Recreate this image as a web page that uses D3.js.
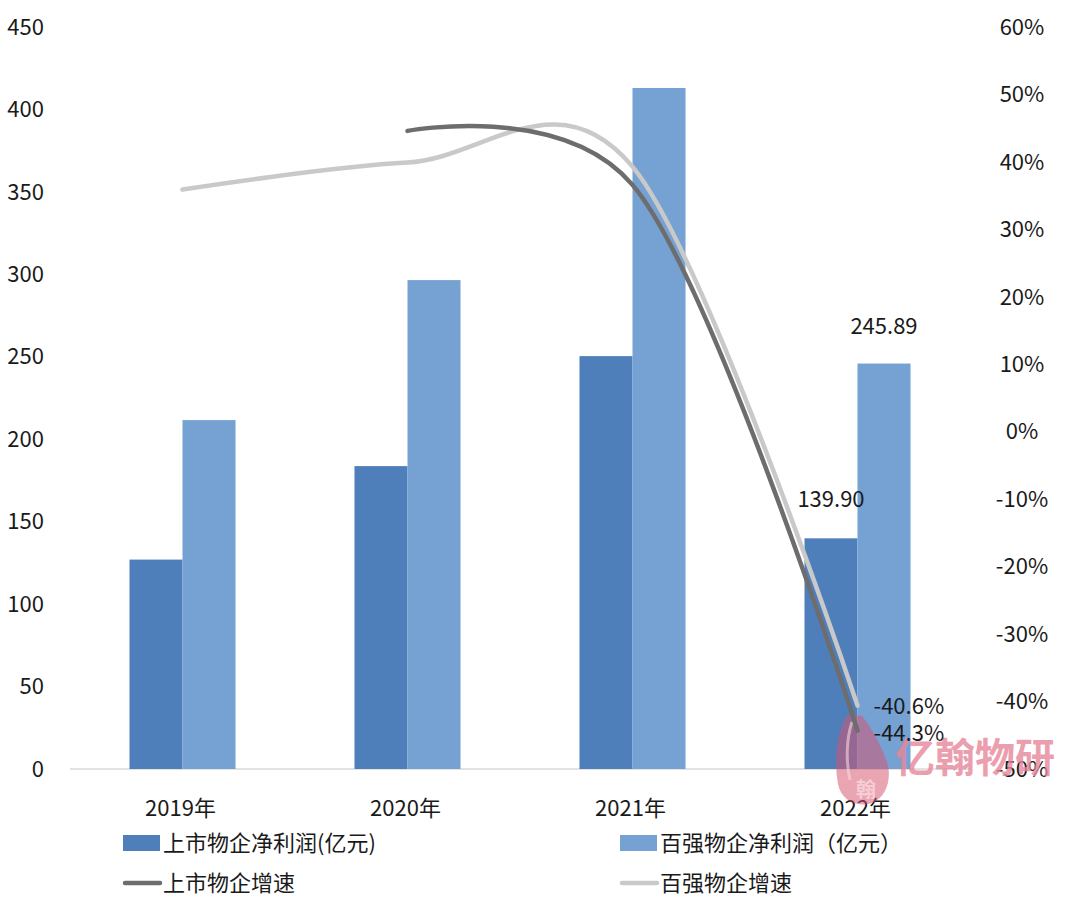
<!DOCTYPE html>
<html><head><meta charset="utf-8">
<script src="https://cdn.jsdelivr.net/npm/d3@7"></script>
<style>
body{margin:0;background:#fff;}
svg text{font-family:"Noto Sans CJK SC","Noto Sans",sans-serif;fill:#1a1a1a;}
</style></head>
<body><svg id="c" width="1080" height="923"></svg>
<script>
const categories = ["2019年","2020年","2021年","2022年"];
const listedProfit = [127, 183.7, 250.4, 139.90];
const top100Profit = [211.6, 296.5, 413, 245.89];
const listedGrowth = [null, 44.6, 36.6, -44.3];
const top100Growth = [35.9, 39.9, 39.3, -40.6];
const leftTicks = [0,50,100,150,200,250,300,350,400,450];
const rightTicks = [-50,-40,-30,-20,-10,0,10,20,30,40,50,60];
const seriesNames = ["上市物企净利润(亿元)","百强物企净利润（亿元）","上市物企增速","百强物企增速"];

const svg = d3.select("#c");
const colDark = "#4f7fbb", colLight = "#75a1d3", lineDark = "#6d6d6d", lineLight = "#c9c9c9";

const x0 = d3.scaleBand().domain(categories).range([70, 970]).paddingInner(0).paddingOuter(0);
const bw = x0.bandwidth();
const x1 = d3.scaleBand().domain(["a","b"]).range([bw*0.2644, bw*0.7356]);
const yL = d3.scaleLinear().domain([0,450]).range([769,27]);
const yR = d3.scaleLinear().domain([-50,60]).range([769,27]);

// baseline
svg.append("line").attr("x1",70).attr("x2",970).attr("y1",yL(0)).attr("y2",yL(0))
  .attr("stroke","#d9d9d9").attr("stroke-width",1.5);

// bars
const g = svg.append("g");
categories.forEach((c,i)=>{
  g.append("rect").attr("x",x0(c)+x1("a")).attr("width",x1.bandwidth())
    .attr("y",yL(listedProfit[i])).attr("height",yL(0)-yL(listedProfit[i])).attr("fill",colDark);
  g.append("rect").attr("x",x0(c)+x1("b")).attr("width",x1.bandwidth())
    .attr("y",yL(top100Profit[i])).attr("height",yL(0)-yL(top100Profit[i])).attr("fill",colLight);
});

// left axis labels
svg.append("g").selectAll("text").data(leftTicks).join("text")
  .attr("x",44).attr("y",d=>yL(d)).attr("dy","0.35em").attr("text-anchor","end")
  .attr("font-size",22).text(d=>d);
// right axis labels
svg.append("g").selectAll("text").data(rightTicks).join("text")
  .attr("x",1022).attr("y",d=>yR(d)).attr("dy","0.35em").attr("text-anchor","middle")
  .attr("font-size",22).text(d=>d+"%");
// category labels
svg.append("g").selectAll("text").data(categories).join("text")
  .attr("x",d=>x0(d)+bw/2-2).attr("y",808).attr("dy","0.35em").attr("text-anchor","middle")
  .attr("font-size",22).text(d=>d);

// watermark (behind lines/labels)
const wm = svg.append("g").attr("opacity",0.8);
wm.append("path").attr("d","M848,714 C836,732 834,762 838,784 C841,800 856,808 872,803 C887,797 892,778 887,762 C881,746 873,730 862,716 Z")
  .attr("fill","#d9536e").attr("opacity",0.65);
wm.append("path").attr("d","M852,722 C846,740 846,762 850,780").attr("fill","none").attr("stroke","#f0b5c0").attr("stroke-width",3);
wm.append("text").attr("x",866).attr("y",797).attr("text-anchor","middle").attr("font-size",20)
  .attr("font-weight","bold").style("fill","#f3c2cb").text("翰");
wm.append("text").attr("x",895).attr("y",772).attr("font-size",40).attr("font-weight","bold")
  .style("fill","#e7879a").text("亿翰物研");

// lines
const cx = c => x0(c)+bw/2;
const lineLightGen = d3.line().defined(d=>d[1]!=null).x(d=>cx(d[0])).y(d=>yR(d[1])).curve(d3.curveCardinal.tension(0));
const lineDarkGen = d3.line().defined(d=>d[1]!=null).x(d=>cx(d[0])).y(d=>yR(d[1])).curve(d3.curveCatmullRom.alpha(0.15));
svg.append("path").datum(categories.map((c,i)=>[c,top100Growth[i]]))
  .attr("d",lineLightGen).attr("fill","none").attr("stroke",lineLight).attr("stroke-width",4.5).attr("stroke-linecap","round");
svg.append("path").datum(categories.map((c,i)=>[c,listedGrowth[i]]).filter(d=>d[1]!=null))
  .attr("d",lineDarkGen).attr("fill","none").attr("stroke",lineDark).attr("stroke-width",4.5).attr("stroke-linecap","round");

// data labels
const last = categories[3];
svg.append("text").attr("x",x0(last)+x1("b")+x1.bandwidth()/2).attr("y",yL(top100Profit[3])-30)
  .attr("text-anchor","middle").attr("font-size",22).text(top100Profit[3].toFixed(2));
svg.append("text").attr("x",x0(last)+x1("a")+x1.bandwidth()/2).attr("y",yL(listedProfit[3])-31)
  .attr("text-anchor","middle").attr("font-size",22).text(listedProfit[3].toFixed(2));
svg.append("text").attr("x",cx(last)+16).attr("y",yR(top100Growth[3])+1).attr("dy","0.35em")
  .attr("font-size",22).text(top100Growth[3].toFixed(1)+"%");
svg.append("text").attr("x",cx(last)+16).attr("y",yR(listedGrowth[3])+3).attr("dy","0.35em")
  .attr("font-size",22).text(listedGrowth[3].toFixed(1)+"%");

// legend
const lg = svg.append("g").attr("font-size",22);
lg.append("rect").attr("x",123).attr("y",835).attr("width",37).attr("height",16).attr("fill",colDark);
lg.append("text").attr("x",163).attr("y",843).attr("dy","0.35em").text(seriesNames[0]);
lg.append("rect").attr("x",620).attr("y",835).attr("width",37).attr("height",16).attr("fill",colLight);
lg.append("text").attr("x",660).attr("y",843).attr("dy","0.35em").text(seriesNames[1]);
lg.append("line").attr("x1",125).attr("x2",160).attr("y1",883).attr("y2",883).attr("stroke",lineDark).attr("stroke-width",4.5).attr("stroke-linecap","round");
lg.append("text").attr("x",163).attr("y",883).attr("dy","0.35em").text(seriesNames[2]);
lg.append("line").attr("x1",622).attr("x2",657).attr("y1",883).attr("y2",883).attr("stroke",lineLight).attr("stroke-width",4.5).attr("stroke-linecap","round");
lg.append("text").attr("x",660).attr("y",883).attr("dy","0.35em").text(seriesNames[3]);
</script></body></html>
